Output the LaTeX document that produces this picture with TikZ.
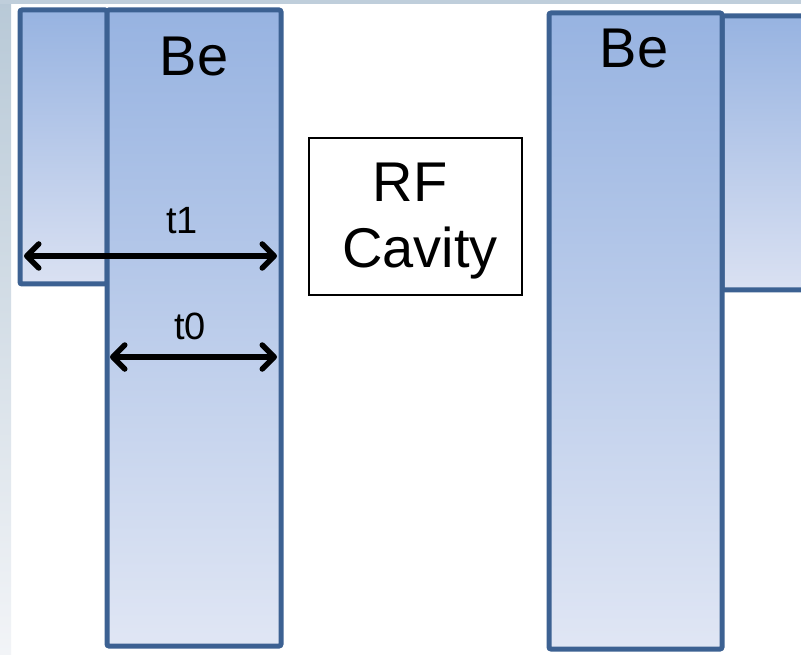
\documentclass[tikz,border=0pt]{standalone}
\usepackage{fontspec}
\setmainfont{Liberation Sans}
\usetikzlibrary{arrows.meta}
\definecolor{edgeblue}{HTML}{3C6192}
\definecolor{filltop}{HTML}{97B3E1}
\definecolor{fillbot}{HTML}{E0E6F4}
\definecolor{fillmid}{HTML}{DAE1F2}
\definecolor{bgtop}{HTML}{B8C9D7}
\definecolor{bgbot}{HTML}{F2F4F7}
\tikzset{
  plate/.style={draw=edgeblue,line width=5pt,rounded corners=2pt,top color=filltop,bottom color=fillbot},
  shortplate/.style={draw=edgeblue,line width=5pt,rounded corners=2pt,top color=filltop,bottom color=fillmid},
  bigtxt/.style={font=\fontsize{56}{64}\selectfont,anchor=base,inner sep=0pt},
  dimtxt/.style={font=\fontsize{38}{44}\selectfont,anchor=base,inner sep=0pt},
  dimarrow/.style={line width=5.5pt,{Straight Barb[length=12pt,width=24pt,line cap=round,line join=round]}-{Straight Barb[length=12pt,width=24pt,line cap=round,line join=round]}},
}
\begin{document}
\begin{tikzpicture}[x=1pt,y=-1pt]
\useasboundingbox (0,0) rectangle (801,655);
\clip (0,0) rectangle (801,655);
% slide background
\fill[white] (0,0) rectangle (801,655);
\shade[top color=bgtop,bottom color=bgbot] (0,0) rectangle (11,655);
\fill[bgtop!90!white] (0,0) rectangle (801,4);
% left plates
\path[shortplate] (20,10) rectangle (107,284);
\path[plate] (107,10) rectangle (281,646);
% right plates
\path[shortplate] (722,16) rectangle (815,290);
\path[plate] (549,13) rectangle (722,649);
% RF cavity
\draw[line width=1.6pt,black] (309,138) rectangle (522,295);
\node[bigtxt] (rf) at (410,202) {RF};
\node[bigtxt] (cav) at (420,268) {Cavity};
% labels
\node[bigtxt] (be1) at (194,76) {Be};
\node[bigtxt] (be2) at (634,68) {Be};
\node[dimtxt] (t1) at (182,234) {t1};
\node[dimtxt] (t0) at (190,339) {t0};
% dimension arrows
\coordinate (a1) at (24,256);
\coordinate (b1) at (277,256);
\coordinate (a0) at (110,357);
\coordinate (b0) at (277,357);
\draw[dimarrow] (a1) -- (b1);
\draw[dimarrow] (a0) -- (b0);
\end{tikzpicture}
\end{document}
